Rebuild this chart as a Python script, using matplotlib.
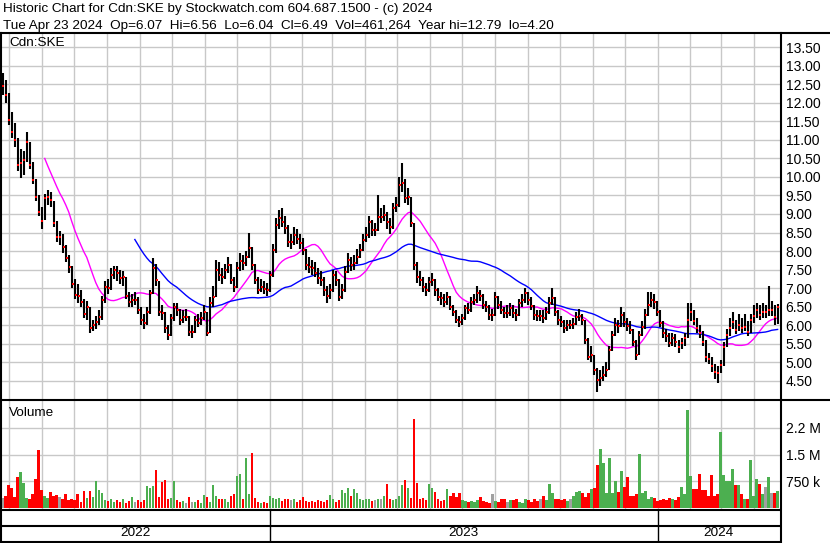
import numpy as np
import pandas as pd
import matplotlib
matplotlib.use("Agg")
import matplotlib.pyplot as plt
import matplotlib.dates as mdates

# Cdn:SKE, about every second trading day, Apr 2022 - Apr 2024
closes = [
  12.45, 12.21, 11.53, 11.21, 10.99, 10.32, 10.37, 10.45, 10.94, 10.32,
  9.92, 9.46, 9.05, 8.80, 9.43, 9.46, 9.38, 8.76, 8.38, 8.38,
  8.11, 7.81, 7.57, 7.11, 6.82, 6.79, 6.63, 6.30, 6.49, 5.93,
  6.01, 6.09, 6.22, 6.68, 7.03, 7.00, 7.35, 7.49, 7.41, 7.27,
  7.30, 6.79, 6.63, 6.68, 6.68, 6.41, 6.14, 6.06, 6.36, 6.87,
  7.54, 7.22, 6.36, 6.33, 5.93, 5.74, 6.20, 6.49, 6.41, 6.14,
  6.22, 6.22, 5.82, 5.82, 6.14, 6.06, 6.20, 6.36, 5.79, 6.60,
  6.76, 7.49, 7.35, 7.30, 7.49, 7.62, 7.22, 7.03, 7.54, 7.73,
  7.68, 7.84, 8.08, 7.62, 7.22, 6.95, 7.03, 6.98, 6.95, 7.35,
  8.03, 8.70, 8.89, 8.78, 8.62, 8.24, 8.24, 8.43, 8.32, 8.22,
  8.03, 7.62, 7.57, 7.54, 7.41, 7.27, 7.22, 6.95, 6.79, 6.95,
  7.35, 7.22, 6.76, 6.95, 7.44, 7.76, 7.62, 7.68, 7.84, 8.03,
  8.30, 8.43, 8.78, 8.57, 8.57, 8.92, 8.92, 8.97, 8.78, 8.65,
  9.16, 9.24, 9.78, 9.83, 9.43, 9.46, 8.76, 7.62, 7.30, 7.22,
  7.03, 6.95, 7.17, 7.22, 6.95, 6.76, 6.73, 6.63, 6.76, 6.49,
  6.36, 6.14, 6.09, 6.20, 6.46, 6.41, 6.63, 6.68, 6.87, 6.79,
  6.55, 6.49, 6.28, 6.28, 6.76, 6.55, 6.41, 6.33, 6.33, 6.46,
  6.33, 6.28, 6.60, 6.68, 6.87, 6.68, 6.52, 6.28, 6.25, 6.25,
  6.20, 6.36, 6.60, 6.73, 6.36, 6.14, 6.09, 5.93, 6.01, 6.01,
  6.03, 6.22, 6.25, 6.14, 5.60, 5.14, 5.20, 4.79, 4.52, 4.58,
  4.66, 4.79, 5.33, 5.74, 6.01, 5.98, 6.28, 6.09, 5.98, 5.87,
  5.55, 5.20, 5.74, 5.95, 6.28, 6.55, 6.68, 6.63, 6.36, 6.06,
  5.79, 5.71, 5.52, 5.66, 5.55, 5.41, 5.52, 5.66, 6.14, 6.36,
  6.11, 5.93, 5.79, 5.55, 5.14, 5.09, 4.90, 4.74, 4.72, 4.93,
  5.41, 5.74, 5.93, 6.09, 5.87, 6.01, 5.93, 5.95, 5.82, 6.14,
  6.25, 6.41, 6.28, 6.36, 6.36, 6.41, 6.41, 6.22, 6.49,
]
highs = [
  12.79, 12.60, 12.25, 11.75, 11.45, 11.05, 10.75, 10.70, 11.20, 10.95,
  10.40, 9.95, 9.50, 9.20, 9.55, 9.65, 9.60, 9.35, 8.80, 8.55,
  8.45, 8.15, 7.90, 7.60, 7.25, 7.10, 6.95, 6.70, 6.65, 6.50,
  6.15, 6.25, 6.40, 6.80, 7.20, 7.25, 7.55, 7.60, 7.60, 7.50,
  7.45, 7.30, 6.90, 6.85, 6.90, 6.75, 6.50, 6.30, 6.50, 6.95,
  7.82, 7.65, 7.20, 6.55, 6.35, 6.00, 6.30, 6.60, 6.60, 6.45,
  6.40, 6.45, 6.25, 6.00, 6.25, 6.30, 6.35, 6.55, 6.35, 6.75,
  7.05, 7.75, 7.70, 7.55, 7.65, 7.85, 7.65, 7.30, 7.70, 7.95,
  7.90, 8.00, 8.50, 8.10, 7.65, 7.30, 7.25, 7.20, 7.15, 7.45,
  8.20, 8.90, 9.10, 9.16, 8.95, 8.70, 8.45, 8.65, 8.60, 8.45,
  8.35, 8.05, 7.85, 7.75, 7.70, 7.55, 7.45, 7.30, 7.05, 7.10,
  7.50, 7.45, 7.25, 7.10, 7.60, 7.95, 7.85, 7.90, 8.05, 8.20,
  8.45, 8.65, 8.95, 8.85, 8.75, 9.50, 9.15, 9.25, 9.05, 8.90,
  9.30, 9.45, 10.00, 10.37, 9.95, 9.70, 9.45, 8.75, 7.70, 7.45,
  7.30, 7.15, 7.30, 7.40, 7.25, 7.00, 6.90, 6.85, 6.90, 6.80,
  6.55, 6.40, 6.25, 6.30, 6.55, 6.60, 6.75, 6.85, 7.05, 6.95,
  6.85, 6.65, 6.55, 6.45, 6.90, 6.80, 6.65, 6.50, 6.55, 6.60,
  6.55, 6.45, 6.70, 6.85, 7.00, 6.90, 6.75, 6.55, 6.40, 6.40,
  6.40, 6.50, 6.75, 7.00, 6.75, 6.40, 6.25, 6.15, 6.15, 6.15,
  6.20, 6.35, 6.45, 6.30, 6.15, 5.65, 5.45, 5.20, 4.85, 4.80,
  4.90, 5.00, 5.45, 5.85, 6.20, 6.15, 6.50, 6.35, 6.20, 6.10,
  5.90, 5.60, 5.85, 6.10, 6.45, 6.90, 6.90, 6.85, 6.65, 6.40,
  6.10, 5.90, 5.80, 5.80, 5.75, 5.60, 5.65, 5.80, 6.60, 6.60,
  6.40, 6.20, 6.00, 5.85, 5.60, 5.25, 5.15, 4.95, 4.90, 5.05,
  5.55, 5.90, 6.20, 6.35, 6.15, 6.30, 6.20, 6.30, 6.10, 6.30,
  6.55, 6.60, 6.55, 6.60, 6.55, 7.05, 6.65, 6.55, 6.56,
]
lows = [
  12.20, 12.00, 11.40, 11.05, 10.80, 10.15, 9.97, 10.05, 10.40, 10.20,
  9.80, 9.35, 8.95, 8.60, 8.85, 9.25, 9.20, 8.65, 8.25, 8.15,
  7.95, 7.70, 7.40, 7.00, 6.70, 6.60, 6.50, 6.20, 6.15, 5.80,
  5.85, 5.90, 6.00, 6.15, 6.60, 6.85, 6.95, 7.25, 7.20, 7.10,
  7.05, 6.70, 6.50, 6.50, 6.55, 6.30, 6.00, 5.90, 6.00, 6.30,
  6.85, 7.05, 6.25, 6.15, 5.80, 5.60, 5.70, 6.10, 6.25, 6.00,
  6.05, 6.10, 5.70, 5.65, 5.80, 5.95, 6.00, 6.15, 5.70, 5.80,
  6.50, 6.75, 7.20, 7.10, 7.25, 7.40, 7.10, 6.90, 7.00, 7.45,
  7.50, 7.60, 7.80, 7.50, 7.10, 6.85, 6.90, 6.85, 6.80, 6.90,
  7.30, 7.95, 8.60, 8.65, 8.45, 8.10, 8.05, 8.15, 8.20, 8.05,
  7.90, 7.50, 7.40, 7.35, 7.30, 7.10, 7.05, 6.80, 6.60, 6.70,
  6.90, 7.05, 6.65, 6.70, 6.90, 7.40, 7.45, 7.50, 7.65, 7.80,
  8.00, 8.25, 8.35, 8.40, 8.40, 8.55, 8.75, 8.80, 8.60, 8.45,
  8.60, 9.05, 9.20, 9.60, 9.30, 9.25, 8.65, 7.50, 7.15, 7.05,
  6.90, 6.80, 6.90, 7.05, 6.80, 6.65, 6.55, 6.50, 6.55, 6.40,
  6.25, 6.05, 5.95, 6.00, 6.15, 6.30, 6.35, 6.55, 6.60, 6.65,
  6.45, 6.35, 6.15, 6.10, 6.25, 6.45, 6.30, 6.20, 6.20, 6.25,
  6.20, 6.10, 6.25, 6.50, 6.60, 6.55, 6.40, 6.15, 6.10, 6.10,
  6.05, 6.15, 6.30, 6.55, 6.25, 6.00, 5.95, 5.80, 5.85, 5.90,
  5.90, 6.00, 6.10, 6.00, 5.50, 5.05, 5.00, 4.65, 4.20, 4.35,
  4.50, 4.60, 4.80, 5.30, 5.70, 5.80, 5.95, 5.95, 5.85, 5.75,
  5.45, 5.05, 5.20, 5.70, 5.90, 6.25, 6.50, 6.45, 6.25, 5.95,
  5.65, 5.55, 5.40, 5.45, 5.40, 5.25, 5.35, 5.45, 5.65, 6.10,
  6.00, 5.80, 5.65, 5.45, 5.00, 4.95, 4.75, 4.55, 4.45, 4.70,
  4.90, 5.40, 5.70, 5.90, 5.75, 5.85, 5.80, 5.85, 5.70, 5.80,
  6.05, 6.20, 6.15, 6.20, 6.20, 6.25, 6.25, 6.00, 6.04,
]
# volume in thousands of shares
volumes = [
  280, 330, 630, 540, 300, 850, 1000, 690, 280, 240,
  380, 820, 1630, 500, 330, 280, 440, 330, 350, 300,
  240, 380, 200, 250, 220, 380, 160, 470, 280, 470,
  300, 750, 500, 420, 200, 180, 230, 150, 200, 160,
  230, 140, 190, 310, 160, 220, 150, 200, 600, 560,
  600, 1070, 310, 730, 770, 240, 270, 750, 200, 150,
  190, 140, 290, 170, 150, 200, 130, 350, 310, 170,
  630, 330, 240, 230, 240, 170, 330, 370, 880, 940,
  240, 1400, 380, 1540, 260, 150, 140, 160, 130, 330,
  260, 240, 260, 180, 230, 240, 200, 240, 170, 200,
  300, 180, 150, 190, 170, 200, 190, 160, 210, 350,
  240, 170, 200, 500, 420, 540, 330, 520, 400, 250,
  220, 250, 240, 180, 200, 230, 250, 330, 660, 240,
  200, 250, 320, 630, 770, 540, 280, 2500, 690, 230,
  260, 210, 660, 560, 440, 240, 190, 210, 520, 330,
  420, 290, 400, 200, 180, 150, 190, 160, 200, 290,
  180, 150, 140, 380, 190, 160, 230, 240, 170, 200,
  220, 250, 160, 140, 250, 200, 170, 250, 180, 230,
  330, 200, 660, 400, 230, 240, 200, 240, 180, 240,
  330, 440, 470, 420, 300, 400, 520, 540, 1200, 1650,
  1250, 420, 1390, 420, 760, 440, 1040, 570, 870, 330,
  330, 380, 1510, 420, 470, 240, 300, 280, 190, 210,
  250, 220, 260, 240, 200, 300, 570, 380, 2750, 880,
  520, 520, 940, 500, 500, 330, 910, 330, 380, 2140,
  910, 750, 750, 1080, 630, 630, 380, 240, 240, 1340,
  330, 800, 660, 380, 570, 850, 420, 400, 461,
]

price_ticks = [4.5, 5.0, 5.5, 6.0, 6.5, 7.0, 7.5, 8.0, 8.5, 9.0,
               9.5, 10.0, 10.5, 11.0, 11.5, 12.0, 12.5, 13.0, 13.5]
volume_ticks = [750, 1500, 2250]
volume_labels = ["750 k", "1.5 M", "2.2 M"]
years = ["2022", "2023", "2024"]

title_line = "Historic Chart for Cdn:SKE by Stockwatch.com 604.687.1500 - (c) 2024"
info_line = ("Tue Apr 23 2024  Op=6.07  Hi=6.56  Lo=6.04  Cl=6.49  "
             "Vol=461,264  Year hi=12.79  lo=4.20")

plt.rcParams['font.family'] = ['Liberation Sans', 'DejaVu Sans']

W, H = 830, 543
UP, DOWN, FLAT = "#4caf50", "#ff0000", "#a0a0a0"
GRID = "#c8c8c8"
FS = 9.7


def box(x0, y0, x1, y1):
  # pixel box (top-left origin) -> figure fraction
  return [x0 / W, 1 - y1 / H, (x1 - x0) / W, (y1 - y0) / H]


dates = pd.date_range("2022-04-25", "2024-04-23", periods=len(closes))
x = mdates.date2num(dates)
jan23 = mdates.date2num(pd.Timestamp("2023-01-01"))
jan24 = mdates.date2num(pd.Timestamp("2024-01-01"))
px_day = (657.5 - 269.5) / (jan24 - jan23)
x_left = jan23 - 268.5 / px_day
x_right = jan23 + 510.5 / px_day

fig = plt.figure(figsize=(8.3, 5.43), dpi=100)

# price panel
ax = fig.add_axes(box(1, 33, 780, 399))
ax.set_xlim(x_left, x_right)
ax.set_ylim(4.01, 13.88)
ax.xaxis.set_major_locator(mdates.MonthLocator())
ax.set_yticks(price_ticks)
ax.set_yticklabels([f"{t:.2f}" for t in price_ticks])
ax.yaxis.tick_right()
ax.tick_params(axis="y", length=0, pad=4, labelsize=10)
ax.tick_params(axis="x", length=0, labelbottom=False)
ax.grid(True, color=GRID, lw=1)
ax.set_axisbelow(True)
for s in ax.spines.values():
  s.set_visible(False)

ax.vlines(x, lows, highs, color="black", lw=1.5, zorder=3)
ax.plot(x + 0.7, closes, "s", color="red", ms=2.1, mew=0, zorder=4)

ma_fast = pd.Series(closes).rolling(15).mean()
ma_slow = pd.Series(closes).rolling(45).mean()
ax.plot(x, ma_fast, color="#ff00ff", lw=1, zorder=2)
ax.plot(x, ma_slow, color="#0000ff", lw=1, zorder=2)

# volume panel
colors = []
for i, c in enumerate(closes):
  prev = closes[i - 1] if i > 0 else c
  if c > prev:
    colors.append(UP)
  elif c < prev:
    colors.append(DOWN)
  else:
    colors.append(FLAT)

axv = fig.add_axes(box(1, 399, 780, 510))
axv.set_xlim(x_left, x_right)
axv.set_ylim(-70, 3070)
axv.bar(x, volumes, width=2.4, color=colors, zorder=3)
axv.xaxis.set_major_locator(mdates.MonthLocator())
axv.set_yticks(volume_ticks)
axv.set_yticklabels(volume_labels)
axv.yaxis.tick_right()
axv.tick_params(axis="y", length=0, pad=4, labelsize=10)
axv.tick_params(axis="x", length=0, labelbottom=False)
axv.grid(True, color=GRID, lw=1)
axv.set_axisbelow(True)
for s in axv.spines.values():
  s.set_visible(False)

# year band
axy = fig.add_axes(box(1, 510, 780, 541))
axy.set_xlim(x_left, x_right)
axy.set_ylim(0, 31)
axy.axis("off")
bounds = [x_left, jan23, jan24, x_right]
for b in bounds[1:-1]:
  axy.axvline(b, color="black", lw=1)
for i, yr in enumerate(years):
  axy.text((bounds[i] + bounds[i + 1]) / 2, 7.5, yr, ha="center",
           va="center", fontsize=FS)

# frame lines and header text, in pixel coordinates
ov = fig.add_axes([0, 0, 1, 1])
ov.set_xlim(0, W)
ov.set_ylim(H, 0)
ov.axis("off")
ov.patch.set_alpha(0)
ov.plot([0, W], [33, 33], color="black", lw=1.5)
ov.plot([0, W], [399.5, 399.5], color="black", lw=1.5)
ov.plot([0, 780], [510, 510], color="black", lw=1.5)
ov.plot([0, 780], [526, 526], color="black", lw=1.5)
ov.plot([0, 780], [541.5, 541.5], color="black", lw=1.5)
ov.plot([1, 1], [33, 542], color="black", lw=1.5)
ov.plot([780.5, 780.5], [33, 542], color="black", lw=1.5)

ov.text(3, 9, title_line, va="center", fontsize=FS)
ov.text(3, 26, info_line, va="center", fontsize=FS)
ov.text(9, 43, "Cdn:SKE", va="center", fontsize=FS)
ov.text(9, 413, "Volume", va="center", fontsize=FS)

fig.savefig("out.png", dpi=100)
plt.close(fig)
